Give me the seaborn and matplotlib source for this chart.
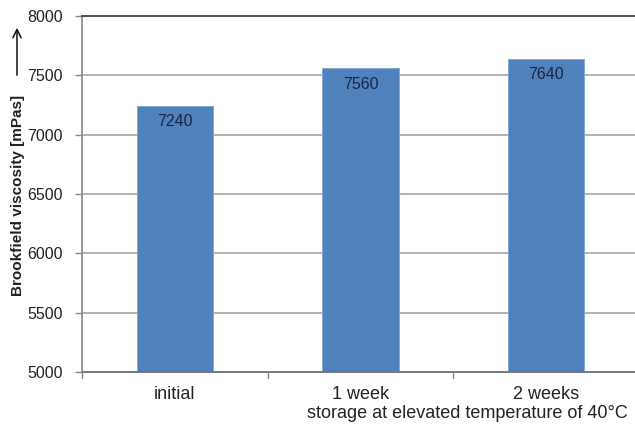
import matplotlib
matplotlib.use("Agg")
import matplotlib.pyplot as plt
import seaborn as sns
import pandas as pd

categories = ["initial", "1 week", "2 weeks"]
values = [7240, 7560, 7640]
y_ticks = [5000, 5500, 6000, 6500, 7000, 7500, 8000]

sns.set_theme(style="white")
plt.rcParams['font.family'] = ['Liberation Sans', 'DejaVu Sans']

df = pd.DataFrame({"cat": categories, "val": values})

fig = plt.figure(figsize=(6.35, 4.25), dpi=100)
ax = fig.add_axes([82/635, 53/425, 557/635, 356/425])

for y in y_ticks[1:-1]:
    ax.axhline(y, color="#a6a6a6", lw=1.2, zorder=0)

sns.barplot(data=df, x="cat", y="val", color="#4F81BD", saturation=1,
            width=0.41, ax=ax, zorder=2, edgecolor="#7fa6d6", linewidth=0.6)

ax.set_ylim(5000, 8000)
ax.set_xlim(-0.5, 2.5)
ax.set_yticks(y_ticks)
ax.set_yticklabels([str(v) for v in y_ticks], fontsize=11.5, color="#222222")
ax.set_xticks([0, 1, 2])
ax.set_xticklabels(categories, fontsize=13, color="#222222")
ax.tick_params(axis="x", length=0, pad=10)
ax.tick_params(axis="y", length=5, width=1, color="#888888", left=True, pad=9)
for b in [-0.5, 0.5, 1.5]:
    ax.plot([b, b], [5000, 4950], color="#888888", lw=1, clip_on=False, zorder=3)
ax.set_xlabel("")
ax.set_ylabel("")

ax.spines["top"].set_color("#333333")
ax.spines["top"].set_linewidth(1.2)
ax.spines["right"].set_visible(False)
ax.spines["left"].set_color("#888888")
ax.spines["left"].set_linewidth(1.2)
ax.spines["bottom"].set_color("#777777")
ax.spines["bottom"].set_linewidth(1.4)

for i, v in enumerate(values):
    ax.text(i, v - 70, str(v), ha="center", va="top", fontsize=11.5, color="#1a2540", zorder=4)

fig.text(18/635, 1 - 195/425, "Brookfield viscosity [mPas]", rotation=90,
         ha="center", va="center", fontsize=11, fontweight="bold", color="#222222")
fig.add_artist(matplotlib.patches.FancyArrowPatch(
    (17/635, 1 - 78/425), (17/635, 1 - 25/425), transform=fig.transFigure,
    arrowstyle="->,head_length=5,head_width=2.5", color="#111111", lw=1.1, mutation_scale=1.2))

fig.text(628/635, 1 - 413/425, "storage at elevated temperature of 40°C",
         ha="right", va="center", fontsize=13, color="#222222")

fig.savefig("out.png", dpi=100)
